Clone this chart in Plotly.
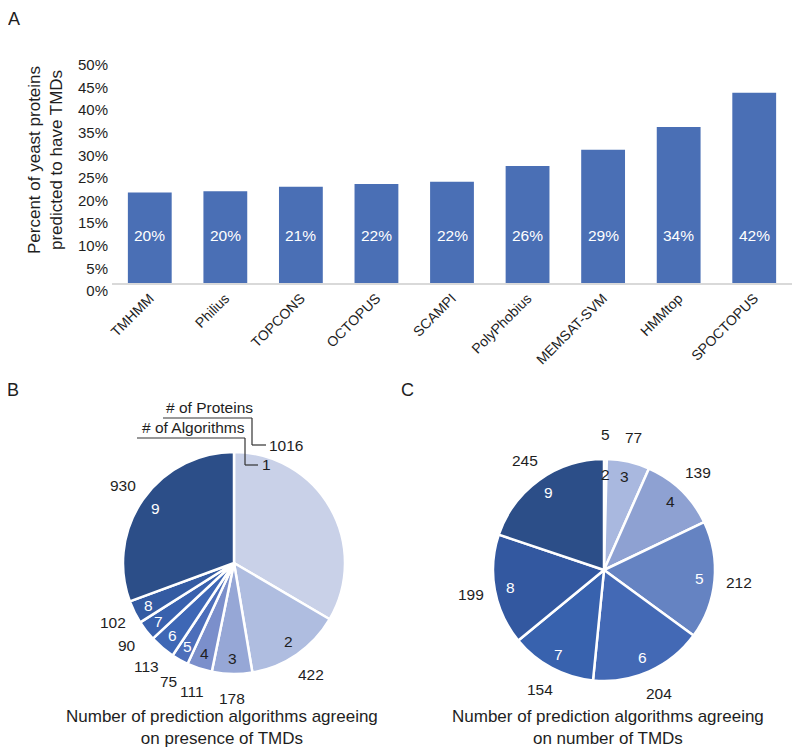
import math
import plotly.graph_objects as go

W, H = 800, 755
OFF = 8  # the page shows the figure shifted by the body margin
FONT = "Liberation Sans, Arial, Helvetica, sans-serif"
DARK = "#1e1e1e"

# ---------------- data ----------------
algorithms = ["TMHMM", "Philius", "TOPCONS", "OCTOPUS", "SCAMPI",
              "PolyPhobius", "MEMSAT-SVM", "HMMtop", "SPOCTOPUS"]
pct_tmd = [20.0, 20.3, 21.3, 21.9, 22.4, 25.9, 29.5, 34.5, 42.1]
pct_labels = ["20%", "20%", "21%", "22%", "22%", "26%", "29%", "34%", "42%"]
bar_color = "#4a6fb5"

presence_n_alg = ["1", "2", "3", "4", "5", "6", "7", "8", "9"]
presence_proteins = [1016, 422, 178, 111, 75, 113, 90, 102, 930]
presence_colors = ["#c9d1e8", "#afbde0", "#96a7d6", "#7b8fcb", "#4c6eba",
                   "#3e67b5", "#3961ad", "#345ba2", "#2c4e88"]
presence_text_colors = [DARK, DARK, DARK, DARK, "white", "white", "white", "white", "white"]

number_n_alg = ["2", "3", "4", "5", "6", "7", "8", "9"]
number_proteins = [5, 77, 139, 212, 204, 154, 199, 245]
number_colors = ["#c8d0e9", "#a9b8df", "#8ea1d2", "#6583c2", "#4369b5",
                 "#3862ae", "#3358a0", "#2c4e88"]
number_text_colors = [DARK, DARK, DARK, "white", "white", "white", "white", "white"]


def px(x):
    return (x - OFF) / W


def py(y):
    return 1 - (y - OFF) / H


def note(text, x, y, size=15.5, color=DARK, xanchor="center", yanchor="middle", **kw):
    return dict(x=px(x), y=py(y), xref="paper", yref="paper", text=text,
                xanchor=xanchor, yanchor=yanchor, showarrow=False,
                font=dict(size=size, color=color, family=FONT), **kw)


fig = go.Figure()

# ---------------- panel A: bars ----------------
fig.add_trace(go.Bar(
    x=algorithms, y=pct_tmd, marker=dict(color=bar_color, line=dict(width=0)),
    showlegend=False, hoverinfo="x+y"))

annotations = []
for name, lab in zip(algorithms, pct_labels):
    annotations.append(dict(x=name, y=10.4, xref="x", yref="y", text=lab,
                            xanchor="center", yanchor="middle",
                            showarrow=False, font=dict(color="white", size=15.5, family=FONT)))

# y-axis title
annotations.append(note("Percent of yeast proteins<br>predicted to have TMDs", 45, 160,
                        size=17, textangle=-90))

# ---------------- pies ----------------
R = 111
B_cx, B_cy = 234, 563
C_cx, C_cy = 604, 570


def pie_domain(cx, cy, r):
    return dict(x=[px(cx - r), px(cx + r)], y=[py(cy + r), py(cy - r)])


fig.add_trace(go.Pie(
    labels=presence_n_alg, values=presence_proteins, sort=False,
    direction="clockwise", rotation=0, textinfo="none", showlegend=False,
    marker=dict(colors=presence_colors, line=dict(color="white", width=2.5)),
    domain=pie_domain(B_cx, B_cy, R)))

fig.add_trace(go.Pie(
    labels=number_n_alg, values=number_proteins, sort=False,
    direction="clockwise", rotation=0, textinfo="none", showlegend=False,
    marker=dict(colors=number_colors, line=dict(color="white", width=2.5)),
    domain=pie_domain(C_cx, C_cy, R)))


def slice_label_positions(values, cx, cy, r, k):
    total = float(sum(values))
    out = []
    cum = 0.0
    for v in values:
        mid = (cum + v / 2.0) / total * 2 * math.pi
        cum += v
        out.append((cx + r * k * math.sin(mid), cy - r * k * math.cos(mid)))
    return out


def add_pie_labels(cats, values, tcolors, cx, cy, skip_first=False):
    inner = slice_label_positions(values, cx, cy, R, 0.86)
    outer = slice_label_positions(values, cx, cy, R, 1.22)
    for i, (c, v) in enumerate(zip(cats, values)):
        if skip_first and i == 0:
            continue
        annotations.append(note(c, inner[i][0], inner[i][1], color=tcolors[i]))
        annotations.append(note(str(v), outer[i][0], outer[i][1]))


add_pie_labels(presence_n_alg, presence_proteins, presence_text_colors, B_cx, B_cy, skip_first=True)
add_pie_labels(number_n_alg, number_proteins, number_text_colors, C_cx, C_cy)

# callout for slice "1" in panel B
shapes = []
lc = dict(color="#333333", width=1.2)
for (x0, y0, x1, y1) in [(163, 418, 252, 418), (252, 418, 252, 445), (252, 445, 266, 445),
                         (137, 438, 245, 438), (245, 438, 245, 465), (245, 465, 258, 465)]:
    shapes.append(dict(type="line", xref="paper", yref="paper",
                       x0=px(x0), y0=py(y0), x1=px(x1), y1=py(y1), line=lc, layer="above"))

for txt, x, y in [("# of Proteins", 164, 407), ("# of Algorithms", 140, 428),
                  (str(presence_proteins[0]), 267, 445), (presence_n_alg[0], 260, 465)]:
    annotations.append(note(txt, x, y, xanchor="left"))

# pie titles
annotations.append(note("Number of prediction algorithms agreeing<br>on presence of TMDs", 222, 727, size=17))
annotations.append(note("Number of prediction algorithms agreeing<br>on number of TMDs", 608, 727, size=17))

# panel letters
for letter, x, y in [("A", 14, 19), ("B", 13, 390), ("C", 407, 390)]:
    annotations.append(note(letter, x, y, size=18))

fig.update_layout(
    width=W, height=H, margin=dict(l=0, r=0, t=0, b=0, pad=0, autoexpand=False),
    paper_bgcolor="white", plot_bgcolor="white",
    font=dict(family=FONT, color=DARK),
    bargap=0.42,
    xaxis=dict(domain=[px(112), px(792)], showgrid=False, zeroline=False,
               showline=True, linecolor="#d9d9d9", linewidth=1.5,
               tickangle=-45, tickfont=dict(size=14, family=FONT, color=DARK),
               ticks="", anchor="y", automargin=False),
    yaxis=dict(domain=[py(283), py(57)], range=[0, 50], dtick=5, tick0=0,
               ticksuffix="%", showgrid=False, zeroline=False, showline=False,
               tickfont=dict(size=15, family=FONT, color=DARK), ticks="",
               ticklabelshift=8, ticklabelstandoff=3, anchor="x", automargin=False),
    annotations=annotations, shapes=shapes,
)

fig.write_html("out.html")
